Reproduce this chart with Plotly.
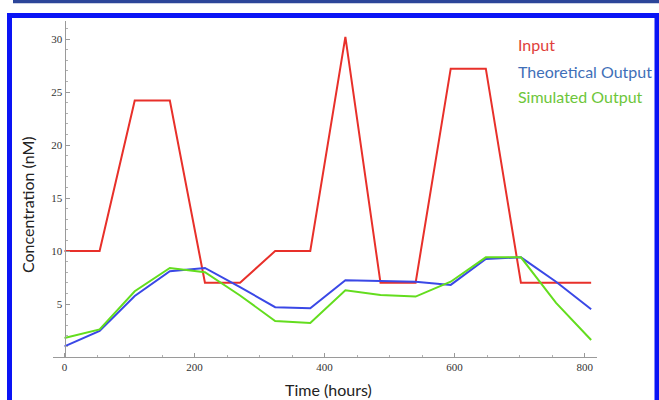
import plotly.graph_objects as go

# Sampling times (hours) and concentrations (nM)
time_h = [0, 54, 108, 162, 216, 270, 324, 378, 432, 486, 540, 594, 648, 702, 756, 810]
input_nm = [10, 10, 24.2, 24.2, 7, 7, 10, 10, 30.2, 7, 7, 27.2, 27.2, 7, 7, 7]
theoretical_nm = [1.0, 2.45, 5.75, 8.1, 8.4, 6.6, 4.7, 4.6, 7.25, 7.2, 7.1, 6.8, 9.25, 9.4, 7.1, 4.5]
simulated_nm = [1.8, 2.6, 6.2, 8.4, 8.0, 5.8, 3.4, 3.2, 6.3, 5.85, 5.7, 7.1, 9.4, 9.4, 5.1, 1.6]

x_ticks = [0, 200, 400, 600, 800]
y_ticks = [5, 10, 15, 20, 25, 30]

W, H = 659, 400
L, R, T, B = 53, 62, 21, 43
X_RANGE = [-17.7, 819]
Y_RANGE = [0, 31.7]
PW, PH = W - L - R, H - T - B


def px(xpix):
    return (xpix - L) / PW


def py(ypix):
    return (H - B - ypix) / PH


fig = go.Figure()
series = [
    ("Input", input_nm, "#e8302a"),
    ("Theoretical Output", theoretical_nm, "#3a48e6"),
    ("Simulated Output", simulated_nm, "#63dd1e"),
]
for name, vals, col in series:
    fig.add_trace(go.Scatter(x=time_h, y=vals, mode="lines", name=name,
                             line=dict(color=col, width=2), showlegend=False))

axis_common = dict(
    showgrid=False, zeroline=False, showline=True, linecolor="#9a9a9a", linewidth=1,
    ticks="inside", ticklen=4, tickcolor="#9a9a9a",
    tickfont=dict(family="Liberation Serif", size=11, color="#333333"),
)
fig.update_xaxes(range=X_RANGE, tickvals=x_ticks, **axis_common,
                 minor=dict(dtick=50, tick0=0, ticklen=2, ticks="inside", tickcolor="#b0b0b0"))
fig.update_yaxes(range=Y_RANGE, tickvals=y_ticks, anchor="free",
                 position=(0 - X_RANGE[0]) / (X_RANGE[1] - X_RANGE[0]), **axis_common,
                 minor=dict(dtick=1, tick0=0, ticklen=2, ticks="inside", tickcolor="#b0b0b0"))

title_font = dict(family="Lato", size=16, color="#222222")
fig.add_annotation(text="Concentration (nM)", x=px(27), y=py(205), xref="paper", yref="paper",
                   textangle=-90, showarrow=False, font=title_font, xanchor="center", yanchor="middle")
fig.add_annotation(text="Time (hours)", x=px(328), y=py(389), xref="paper", yref="paper",
                   showarrow=False, font=title_font, xanchor="center", yanchor="middle")

legend_items = [("Input", "#e0403a", 45), ("Theoretical Output", "#3f6fb8", 71),
                ("Simulated Output", "#6dc63a", 96)]
for label, col, ycen in legend_items:
    fig.add_annotation(text=label, x=px(516), y=py(ycen), xref="paper", yref="paper",
                       showarrow=False, xanchor="left", yanchor="middle",
                       font=dict(family="Lato", size=16, color=col))

# page frame: dark rule at the very top and the bright blue panel border
fig.add_shape(type="line", xref="paper", yref="paper", x0=px(13), x1=px(662), y0=py(1.5), y1=py(1.5),
              line=dict(color="#2c4599", width=3.5))
fig.add_shape(type="rect", xref="paper", yref="paper", x0=px(9.5), x1=px(657), y0=py(15.5), y1=py(420),
              line=dict(color="#0a14f5", width=5))

fig.update_layout(width=W, height=H, margin=dict(l=L, r=R, t=T, b=B),
                  plot_bgcolor="white", paper_bgcolor="white")
fig.write_html("out.html")
